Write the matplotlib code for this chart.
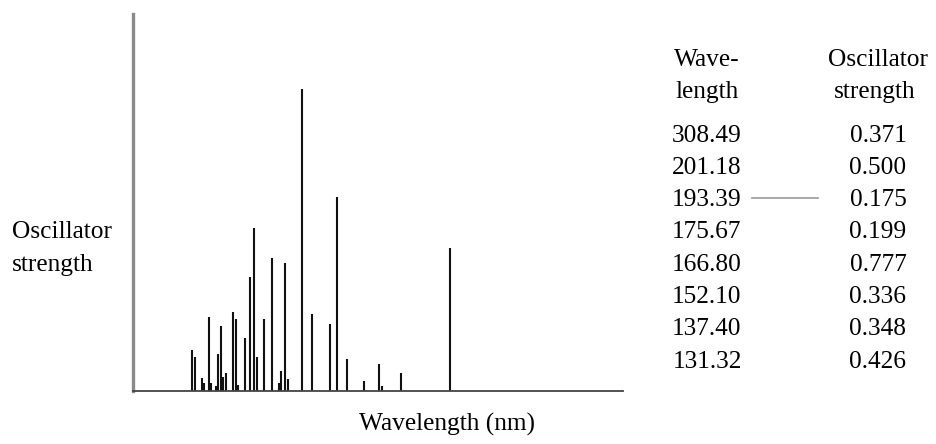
import matplotlib
matplotlib.use('Agg')
import matplotlib.pyplot as plt
from matplotlib.lines import Line2D

# stick spectrum (arbitrary units, no scale given)
line_pos = [59, 61.7, 68.7, 70.7, 75.7, 77.7, 83, 85.3, 88, 89.7, 93,
            100.3, 102.7, 104.7, 111.7, 116.7, 121.3, 124, 131, 138.7,
            145.7, 148.3, 152.3, 154.7, 168.7, 178.7, 197.3, 204.3, 214.3,
            230.7, 246.3, 249.3, 268, 316.7]
line_height = [41, 34, 13, 8, 74, 8, 5, 37, 65, 14, 18,
               79, 72, 6, 53, 114, 163, 34, 72, 133,
               8, 20, 128, 12, 302, 77, 67, 194, 32,
               10, 27, 5, 18, 143]

# table on the right
wavelengths = [308.49, 201.18, 193.39, 175.67, 166.80, 152.10, 137.40, 131.32]
strengths = [0.371, 0.500, 0.175, 0.199, 0.777, 0.336, 0.348, 0.426]

W, H = 937, 444
fig = plt.figure(figsize=(W / 100, H / 100), dpi=100)
plt.rcParams['font.family'] = ['Liberation Serif', 'DejaVu Serif']
fs = 18.3


def fx(x):
    return x / W


def fy(y):
    return 1 - y / H


ax = fig.add_axes([fx(133), fy(391), (623 - 133) / W, (391 - 14) / H])
ax.vlines(line_pos, 0, line_height, color='#111111', linewidth=1.5)
ax.set_xlim(0, 490)
ax.set_ylim(0, 377)
ax.set_xticks([])
ax.set_yticks([])
for s in ['top', 'right']:
    ax.spines[s].set_visible(False)
ax.spines['left'].set_color('#8a8a8a')
ax.spines['left'].set_linewidth(2.4)
ax.spines['bottom'].set_color('#444444')
ax.spines['bottom'].set_linewidth(1.3)

# axis labels
fig.text(fx(12), fy(238), 'Oscillator', fontsize=fs, ha='left', va='baseline')
fig.text(fx(12), fy(271), 'strength', fontsize=fs, ha='left', va='baseline')
fig.text(fx(447), fy(431), 'Wavelength (nm)', fontsize=fs, ha='center', va='baseline')

# table
col1, col2 = 707, 878
fig.text(fx(col1), fy(66), 'Wave-', fontsize=fs, ha='center', va='baseline')
fig.text(fx(col1), fy(98), 'length', fontsize=fs, ha='center', va='baseline')
fig.text(fx(col2), fy(66), 'Oscillator', fontsize=fs, ha='center', va='baseline')
fig.text(fx(col2 - 3), fy(98), 'strength', fontsize=fs, ha='center', va='baseline')

for i, (wl, st) in enumerate(zip(wavelengths, strengths)):
    yb = 141.5 + 32.3 * i
    fig.text(fx(col1), fy(yb), f'{wl:.2f}', fontsize=fs, ha='center', va='baseline')
    fig.text(fx(col2), fy(yb), f'{st:.3f}', fontsize=fs, ha='center', va='baseline')

# stray dash next to the 193.39 row
fig.add_artist(Line2D([fx(752), fx(818)], [fy(198), fy(198)], color='#9a9a9a',
                      linewidth=1.2, transform=fig.transFigure))

fig.savefig('out.png', dpi=100, facecolor='white')
